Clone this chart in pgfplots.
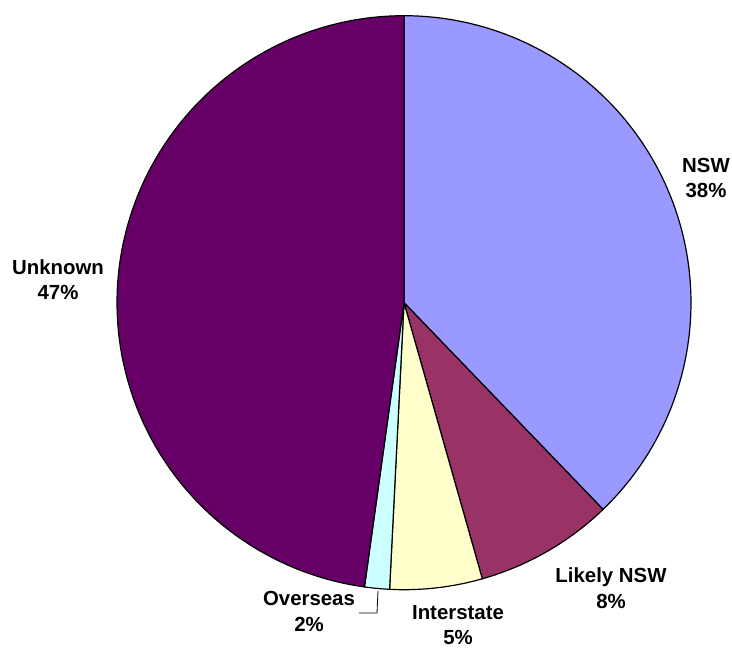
\documentclass[border=0pt]{standalone}
\usepackage{pgfplots}
\usepackage{pgfplotstable}
\pgfplotsset{compat=1.18}
\usepackage{fontspec}
\setmainfont{Liberation Sans}
\definecolor{cNSW}{HTML}{9999FF}
\definecolor{cLikely}{HTML}{993366}
\definecolor{cInter}{HTML}{FFFFCC}
\definecolor{cOver}{HTML}{CCFFFF}
\definecolor{cUnk}{HTML}{660066}
% shares in percent: NSW, Likely NSW, Interstate, Overseas, Unknown
\pgfplotstableread{
share
37.8
7.8
5.2
1.4
47.8
}\piedata
\pgfplotstablegetelem{0}{share}\of\piedata\let\vA\pgfplotsretval
\pgfplotstablegetelem{1}{share}\of\piedata\let\vB\pgfplotsretval
\pgfplotstablegetelem{2}{share}\of\piedata\let\vC\pgfplotsretval
\pgfplotstablegetelem{3}{share}\of\piedata\let\vD\pgfplotsretval
\pgfplotstablegetelem{4}{share}\of\piedata\let\vE\pgfplotsretval
\pgfmathsetmacro\aA{90}
\pgfmathsetmacro\aB{\aA-3.6*\vA}
\pgfmathsetmacro\aC{\aB-3.6*\vB}
\pgfmathsetmacro\aD{\aC-3.6*\vC}
\pgfmathsetmacro\aE{\aD-3.6*\vD}
\pgfmathsetmacro\aF{\aE-3.6*\vE}
\newcommand\cx{404}
\newcommand\cy{345.3}
\newcommand\rr{287}
\begin{document}
\begin{tikzpicture}
\begin{axis}[x=1pt,y=1pt,xmin=0,xmax=732,ymin=0,ymax=648,
  axis line style={draw=none},ticks=none,clip=false]
\addplot[draw=black,fill=cNSW,line width=1.2pt,domain=\aB:\aA,samples=120,variable=\t]
  ({\cx+\rr*cos(\t)},{\cy+\rr*sin(\t)}) -- (axis cs:\cx,\cy) -- cycle;
\addplot[draw=black,fill=cLikely,line width=1.2pt,domain=\aC:\aB,samples=40,variable=\t]
  ({\cx+\rr*cos(\t)},{\cy+\rr*sin(\t)}) -- (axis cs:\cx,\cy) -- cycle;
\addplot[draw=black,fill=cInter,line width=1.2pt,domain=\aD:\aC,samples=30,variable=\t]
  ({\cx+\rr*cos(\t)},{\cy+\rr*sin(\t)}) -- (axis cs:\cx,\cy) -- cycle;
\addplot[draw=black,fill=cOver,line width=1.2pt,domain=\aE:\aD,samples=10,variable=\t]
  ({\cx+\rr*cos(\t)},{\cy+\rr*sin(\t)}) -- (axis cs:\cx,\cy) -- cycle;
\addplot[draw=black,fill=cUnk,line width=1.2pt,domain=\aF:\aE,samples=140,variable=\t]
  ({\cx+\rr*cos(\t)},{\cy+\rr*sin(\t)}) -- (axis cs:\cx,\cy) -- cycle;
\addplot[black,line width=0.8pt] coordinates {(378,57) (377,35) (359,35)};
\begin{scope}[every node/.style={anchor=base,inner sep=0pt,font=\fontsize{20.4}{25}\selectfont\bfseries}]
\node at (axis cs:706,475) {NSW};
\node at (axis cs:706,450) {38\%};
\node at (axis cs:58,373) {Unknown};
\node at (axis cs:58,348) {47\%};
\node at (axis cs:611,65) {Likely NSW};
\node at (axis cs:611,39) {8\%};
\node at (axis cs:458,28) {Interstate};
\node at (axis cs:458,3) {5\%};
\node at (axis cs:309,42) {Overseas};
\node at (axis cs:309,16) {2\%};
\end{scope}
\end{axis}
\end{tikzpicture}
\end{document}
